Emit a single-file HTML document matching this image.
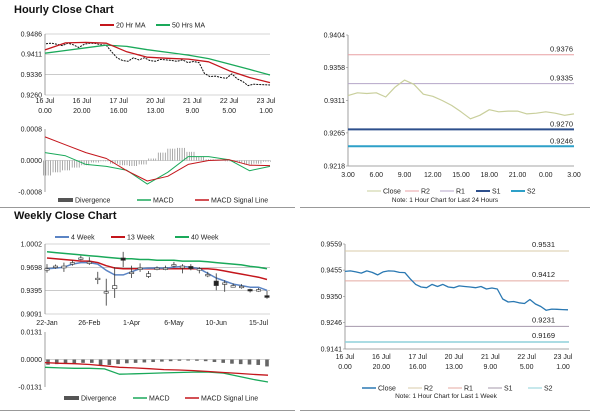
<!DOCTYPE html>
<html><head><meta charset="utf-8"><style>
html,body{margin:0;padding:0;background:#fff;}
svg{display:block;font-family:"Liberation Sans",Arial,sans-serif;}
</style></head><body>
<svg id="s" width="600" height="413" viewBox="0 0 600 413" xmlns="http://www.w3.org/2000/svg">
<text x="14" y="13" font-size="11" font-weight="bold" fill="#111">Hourly Close Chart</text>
<text x="14" y="219" font-size="11" font-weight="bold" fill="#111">Weekly Close Chart</text>
<line x1="0" y1="207.5" x2="295" y2="207.5" stroke="#999" stroke-width="1"/>
<line x1="300" y1="207.5" x2="590" y2="207.5" stroke="#999" stroke-width="1"/>
<line x1="0" y1="410.5" x2="295" y2="410.5" stroke="#999" stroke-width="1"/>
<line x1="300" y1="410.5" x2="590" y2="410.5" stroke="#999" stroke-width="1"/>
</svg>
<script>
// ---- data ----
const hourCats=["16 Jul|0.00","16 Jul|20.00","17 Jul|16.00","20 Jul|13.00","21 Jul|9.00","22 Jul|5.00","23 Jul|1.00"];
const hourClose=[.9450,.9452,.9448,.9443,.9452,.9446,.9436,.9448,.9452,.9451,.9446,.9445,.9420,.9398,.9388,.9385,.9398,.9390,.9398,.9388,.9385,.9392,.9390,.9388,.9385,.9390,.9380,.9384,.9380,.9340,.9328,.9330,.9325,.9322,.9338,.9320,.9310,.9295,.9300,.9299,.9298,.9297];
const ma20=[.9427,.9453,.9455,.9452,.9420,.9400,.9396,.9393,.9383,.9350,.9325,.9306];
const ma50=[.9415,.9425,.9435,.9445,.9440,.9428,.9418,.9408,.9395,.9375,.9355,.9334];
const hTicks=[.9486,.9411,.9336,.9260];
const hMacdTicks=[.0008,0,-.0008];
const hMacd=[.0002,.00012,-.0001,-.00015,-.00025,-.0006,-.0003,.0001,.0001,.00002,-.00026,-.00015];
const hSignal=[.0006,.0004,.0002,.00005,-.00026,-.00052,-.0004,-.0001,0,.00002,-.00012,-.00013];
const hDiv=[-.00038,-.0003,-.00025,-.00018,-.00012,-.00005,-.00002,-.00008,-.00012,-.00014,-.0001,.00005,.0002,.0003,.00032,.00022,.0001,.00003,.00002,-.00002,-.00005,-.0001,-.00008,-.00003];
const dayCats=["3.00","6.00","9.00","12.00","15.00","18.00","21.00","0.00","3.00"];
const dayClose=[.9318,.9322,.9321,.9322,.9316,.9330,.9340,.9334,.9320,.9317,.9311,.9304,.9295,.9285,.9290,.9298,.9295,.9296,.9296,.9292,.9293,.9295,.9293,.9290,.9292];
const dayTicks=[.9404,.9358,.9311,.9265,.9218];
const dayLevelNames=["R2","R1","S1","S2"];
const dayLevels=[.9376,.9335,.9270,.9246];
const weekCats=["22-Jan","26-Feb","1-Apr","6-May","10-Jun","15-Jul"];
const weekCatIdx=[0,5,10,15,20,25];
const wClose=[.9681,.9715,.9715,.9760,.9821,.9768,.9557,.9382,.9461,.9790,.9636,.9689,.9615,.9689,.9689,.9734,.9715,.9681,.9681,.9606,.9461,.9496,.9461,.9452,.9395,.9408,.9307];
const wOpen=[.9675,.9710,.9690,.9755,.9815,.9762,.9552,.9377,.9420,.9820,.9630,.9684,.9580,.9684,.9684,.9729,.9690,.9710,.9676,.9601,.9520,.9491,.9440,.9447,.9410,.9403,.9330];
const wHigh=[.9740,.9735,.9760,.9790,.9850,.9830,.9640,.9550,.9700,.9900,.9720,.9750,.9650,.9710,.9720,.9770,.9740,.9740,.9700,.9640,.9620,.9530,.9490,.9480,.9420,.9430,.9390];
const wLow=[.9630,.9680,.9640,.9720,.9790,.9730,.9480,.9200,.9300,.9700,.9560,.9640,.9560,.9660,.9660,.9700,.9620,.9660,.9620,.9570,.9400,.9380,.9440,.9420,.9370,.9380,.9290];
const w4=[.9681,.9689,.9700,.9740,.9760,.9760,.9740,.9660,.9600,.9600,.9640,.9680,.9689,.9690,.9689,.9700,.9710,.9700,.9681,.9620,.9560,.9520,.9480,.9460,.9440,.9440,.9400];
const w13=[.982,.981,.980,.979,.978,.978,.976,.972,.969,.968,.968,.968,.968,.968,.968,.968,.968,.968,.968,.968,.967,.965,.963,.961,.959,.957,.954];
const w40=[.990,.989,.988,.987,.986,.985,.984,.983,.982,.981,.981,.980,.980,.979,.979,.979,.978,.978,.978,.977,.976,.975,.974,.973,.971,.970,.968];
const wTicks=[1.0002,.9698,.9395,.9091];
const wMacdTicks=[.0131,0,-.0131];
const wMacd=[-.0037,-.0040,-.0042,-.0042,-.0045,-.0070,-.0068,-.0066,-.0064,-.0062,-.0060,-.0060,-.0065,-.0080,-.0095,-.0107];
const wSignal=[-.0015,-.0018,-.0020,-.0024,-.0030,-.0037,-.0040,-.0044,-.0048,-.0050,-.0053,-.0057,-.0062,-.0066,-.0071,-.0075];
const wDiv=[-.0025,-.0022,-.0020,-.0018,-.0016,-.0016,-.0028,-.0026,-.0022,-.0018,-.0016,-.0014,-.0012,-.0010,-.0008,-.0006,-.0005,-.0006,-.0008,-.0012,-.0016,-.0020,-.0022,-.0024,-.0026,-.0033];
const wkCats=["16 Jul|0.00","16 Jul|20.00","17 Jul|16.00","20 Jul|13.00","21 Jul|9.00","22 Jul|5.00","23 Jul|1.00"];
const wkTicks=[.9559,.9455,.9350,.9246,.9141];
const wkLevelNames=["R2","R1","S1","S2"];
const wkLevels=[.9531,.9412,.9231,.9169];

// ---- helpers ----
const NS="http://www.w3.org/2000/svg";
const S=document.getElementById('s');
function mk(tag,attrs){const e=document.createElementNS(NS,tag);for(const k in attrs)e.setAttribute(k,attrs[k]);S.appendChild(e);return e;}
function lin(d0,d1,r0,r1){return v=>r0+(v-d0)/(d1-d0)*(r1-r0);}
function poly(arr,xs,ys,color,w,name,dash){
  const pts=arr.map((v,i)=>xs(i).toFixed(1)+","+ys(v).toFixed(1)).join(" ");
  const p=mk('polyline',{points:pts,fill:'none',stroke:color,'stroke-width':w,'stroke-linejoin':'round'});
  if(dash)p.setAttribute('stroke-dasharray',dash);
  
  
  return p;}
function txt(x,y,s,anchor,size,name){
  const t=mk('text',{x:x,y:y,'font-size':size||7,'text-anchor':anchor||'start',fill:'#222'});
  t.textContent=s;
  
  
  return t;}
function hline(x1,x2,y,color,w,name){
  const l=mk('line',{x1:x1,x2:x2,y1:y,y2:y,stroke:color,'stroke-width':w});
  
  
  return l;}
function vaxis(x,y1,y2,name){
  const l=mk('line',{x1:x,x2:x,y1:y1,y2:y2,stroke:'#888','stroke-width':0.8});
  
  }
function legLine(x,y,color,w,label,name){
  const l=mk('line',{x1:x,x2:x+14,y1:y,y2:y,stroke:color,'stroke-width':w});
  
  
  txt(x+16,y+2.5,label,'start',7,name+'-label');}
function legBox(x,y,label,name){
  const r=mk('rect',{x:x,y:y-2,width:15,height:4,fill:'#555'});
  
  
  txt(x+17,y+2.5,label,'start',7,name+'-label');}
function catLabels(cats,xs,y,pre){
  cats.forEach((c,i)=>{const p=c.split('|');txt(xs(i),y,p[0],'middle',7,pre+'-'+i);if(p[1])txt(xs(i),y+10,p[1],'middle',7,pre+'-'+i+'-line2');});}

// ---- Hourly close (top-left) ----
(function(){
  const X0=45,X1=270;
  const ys=lin(.9486,.9260,34,95);
  hTicks.forEach((t,i)=>{hline(X0,X1,ys(t),'#aaa',0.6,'h-gridline-'+i);txt(X0-3,ys(t)+2.5,t.toFixed(4),'end',7,'h-ytick-'+i);});
  vaxis(X0,34,95,'h-y-axis');
  const xc=lin(0,hourCats.length-1,45,266);
  catLabels(hourCats,xc,103,'h-xtick');
  poly(hourClose,lin(0,hourClose.length-1,X0+1,X1),ys,'#111',1,'h-close-series','2,1');
  poly(ma50,lin(0,ma50.length-1,X0,X1),ys,'#1aa95a',1.3,'h-ma50-line');
  poly(ma20,lin(0,ma20.length-1,X0,X1),ys,'#c4161c',1.3,'h-ma20-line');
  legLine(100,25,'#c4161c',2,'20 Hr MA','h-legend-ma20');
  legLine(156,25,'#1aa95a',2,'50 Hrs MA','h-legend-ma50');
  // MACD
  const ym=lin(.0008,-.0008,129,192);
  hMacdTicks.forEach((t,i)=>txt(X0-3,ym(t)+2.5,t.toFixed(4),'end',7,'hm-ytick-'+i));
  vaxis(X0,129,192,'hm-y-axis');
  hline(X0,X1,ym(0),'#aaa',0.6,'hm-zero-line');
  const xd=lin(0,hDiv.length-1,X0+2,X1-3);
  const step=(X1-X0)/hDiv.length;
  hDiv.forEach((v,i)=>{for(let k=0;k<4;k++){const x=xd(i)+(k-1.5)*step/4;const y0=ym(0),y1=ym(v);
    const b=mk('rect',{x:x-0.35,y:Math.min(y0,y1),width:0.7,height:Math.abs(y1-y0),fill:'#888'});
    
    }});
  poly(hMacd,lin(0,hMacd.length-1,X0,X1),ym,'#1aa95a',1,'hm-macd-line');
  poly(hSignal,lin(0,hSignal.length-1,X0,X1),ym,'#c4161c',1,'hm-signal-line');
  legBox(58,200,'Divergence','hm-legend-divergence');
  legLine(137,200,'#1aa95a',1.5,'MACD','hm-legend-macd');
  legLine(195,200,'#c4161c',1.5,'MACD Signal Line','hm-legend-signal');
})();

// ---- 24 hour chart (top-right) ----
(function(){
  const X0=348,X1=574;
  const ys=lin(.9404,.9218,35,166);
  dayTicks.forEach((t,i)=>{txt(X0-3,ys(t)+2.5,t.toFixed(4),'end',7,'d-ytick-'+i);hline(X0-2,X0,ys(t),'#888',0.6,'d-ytick-mark-'+i);});
  vaxis(X0,35,166,'d-y-axis');
  hline(X0,X1,166,'#888',0.8,'d-x-axis');
  const xc=lin(0,dayCats.length-1,X0,X1);
  catLabels(dayCats,xc,177,'d-xtick');
  const cols=['#e8a0a4','#b4a6c8','#2d4f8c','#2ea0c8'];
  const wid=[1,1,2,2];
  dayLevels.forEach((v,i)=>{hline(X0,X1,ys(v),cols[i],wid[i],'d-level-'+dayLevelNames[i]);txt(X1-1,ys(v)-3,v.toFixed(4),'end',7.5,'d-level-label-'+dayLevelNames[i]);});
  poly(dayClose,lin(0,dayClose.length-1,X0,X1),ys,'#c9cf9c',1.2,'d-close-line');
  legLine(367,191,'#c9cf9c',1,'Close','d-legend-close');
  legLine(405,191,'#e8a0a4',1,'R2','d-legend-r2');
  legLine(440,191,'#b4a6c8',1,'R1','d-legend-r1');
  legLine(476,191,'#2d4f8c',2,'S1','d-legend-s1');
  legLine(511,191,'#2ea0c8',2,'S2','d-legend-s2');
  txt(445,202,'Note: 1 Hour Chart for Last 24 Hours','middle',6.5,'d-note');
})();

// ---- Weekly (bottom-left) ----
(function(){
  const X0=45,X1=270;
  const ys=lin(1.0002,.9091,244,314);
  wTicks.forEach((t,i)=>{hline(X0,X1,ys(t),'#aaa',0.6,'w-gridline-'+i);txt(X0-3,ys(t)+2.5,t.toFixed(4),'end',7,'w-ytick-'+i);});
  vaxis(X0,244,314,'w-y-axis');
  const xs=lin(0,26,47,267);
  weekCats.forEach((c,i)=>txt(xs(weekCatIdx[i]),325,c,'middle',7,'w-xtick-'+i));
  poly(w40,xs,ys,'#1aa95a',1.5,'w-40week-line');
  poly(w13,xs,ys,'#c4161c',1.5,'w-13week-line');
  poly(w4,xs,ys,'#5b84c4',1.5,'w-4week-line');
  wClose.forEach((c,i)=>{const x=xs(i);
    const w=mk('line',{x1:x,x2:x,y1:ys(wHigh[i]),y2:ys(wLow[i]),stroke:'#333','stroke-width':0.8});
    
    
    const top=Math.min(ys(c),ys(wOpen[i])),h=Math.max(1.5,Math.abs(ys(c)-ys(wOpen[i])));
    const r=mk('rect',{x:x-2.2,y:top,width:4.4,height:h,fill:c<wOpen[i]?'#222':'#fff',stroke:'#333','stroke-width':0.6});
    
    });
  legLine(55,237,'#5b84c4',2,'4 Week','w-legend-4week');
  legLine(111,237,'#c4161c',2,'13 Week','w-legend-13week');
  legLine(175,237,'#1aa95a',2,'40 Week','w-legend-40week');
  // MACD
  const ym=lin(.0131,-.0131,332,387);
  wMacdTicks.forEach((t,i)=>txt(X0-3,ym(t)+2.5,t.toFixed(4),'end',7,'wm-ytick-'+i));
  vaxis(X0,332,387,'wm-y-axis');
  hline(X0,X1,ym(0),'#aaa',0.6,'wm-zero-line');
  const xd=lin(0,wDiv.length-1,48,267);
  wDiv.forEach((v,i)=>{const y0=ym(0),y1=ym(v);
    const b=mk('rect',{x:xd(i)-1.8,y:Math.min(y0,y1),width:3.6,height:Math.abs(y1-y0),fill:'#666'});
    
    });
  poly(wMacd,lin(0,wMacd.length-1,45,268),ym,'#1aa95a',1.3,'wm-macd-line');
  poly(wSignal,lin(0,wSignal.length-1,45,268),ym,'#c4161c',1.3,'wm-signal-line');
  legBox(64,398,'Divergence','wm-legend-divergence');
  legLine(133,398,'#1aa95a',1.5,'MACD','wm-legend-macd');
  legLine(185,398,'#c4161c',1.5,'MACD Signal Line','wm-legend-signal');
})();

// ---- 1 week chart (bottom-right) ----
(function(){
  const X0=345,X1=569;
  const ys=lin(.9559,.9141,244,349);
  wkTicks.forEach((t,i)=>{txt(X0-3,ys(t)+2.5,t.toFixed(4),'end',7,'k-ytick-'+i);hline(X0-2,X0,ys(t),'#888',0.6,'k-ytick-mark-'+i);});
  vaxis(X0,244,349,'k-y-axis');
  hline(X0,X1,349,'#888',0.8,'k-x-axis');
  const xc=lin(0,wkCats.length-1,X0,563);
  catLabels(wkCats,xc,359,'k-xtick');
  const cols=['#d8cba8','#e4aaa2','#a498ab','#8fd0da'];
  const wid=[1,1,1,1.5];
  wkLevels.forEach((v,i)=>{hline(X0,X1,ys(v),cols[i],wid[i],'k-level-'+wkLevelNames[i]);txt(X1-14,ys(v)-4,v.toFixed(4),'end',7.5,'k-level-label-'+wkLevelNames[i]);});
  poly(hourClose,lin(0,hourClose.length-1,X0,X1-1),ys,'#2a78b2',1.3,'k-close-line');
  legLine(362,388,'#2a78b2',1.5,'Close','k-legend-close');
  legLine(408,388,'#d8cba8',1,'R2','k-legend-r2');
  legLine(448,388,'#e4aaa2',1,'R1','k-legend-r1');
  legLine(488,388,'#a498ab',1,'S1','k-legend-s1');
  legLine(528,388,'#8fd0da',1,'S2','k-legend-s2');
  txt(446,398,'Note: 1 Hour Chart for Last 1 Week','middle',6.5,'k-note');
})();
</script>
</body></html>
